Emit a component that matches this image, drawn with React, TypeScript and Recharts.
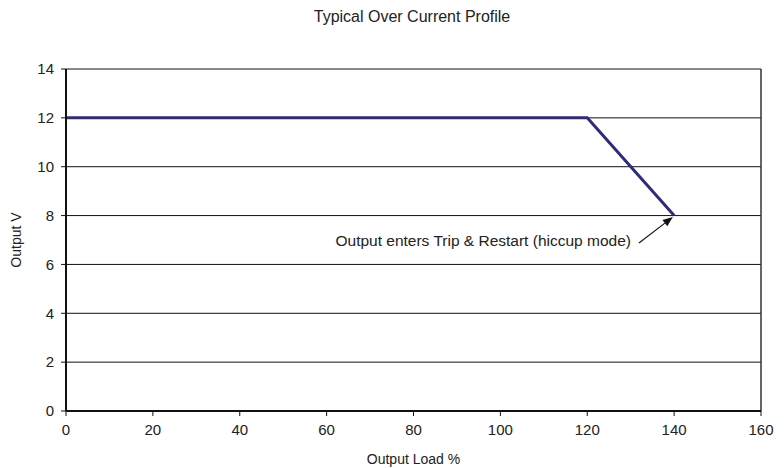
import { LineChart, Line, XAxis, YAxis, CartesianGrid, ReferenceLine, Label } from 'recharts';

const loadPct = [0, 120, 140];
const outputV = [12, 12, 8];
const xTicks = [0, 20, 40, 60, 80, 100, 120, 140, 160];
const yTicks = [0, 2, 4, 6, 8, 10, 12, 14];
const title = 'Typical Over Current Profile';
const note = 'Output enters Trip & Restart (hiccup mode)';
// arrow from the note to the trip point
const arrowFrom = { x: 131.9, y: 6.88 };
const arrowTo = { x: 139.7, y: 7.94 };

const data = loadPct.map((x, i) => ({ x, v: outputV[i] }));

const font = '"Liberation Sans", Arial, sans-serif';
const txt = { fontSize: 15, fill: '#222', fontFamily: font };

const ArrowShape = (props: any) => {
  const { x1, y1, x2, y2 } = props;
  const ang = Math.atan2(y2 - y1, x2 - x1);
  const len = 10;
  const w = 4;
  const bx = x2 - len * Math.cos(ang);
  const by = y2 - len * Math.sin(ang);
  const px = -Math.sin(ang) * w;
  const py = Math.cos(ang) * w;
  return (
    <g>
      <line x1={x1} y1={y1} x2={bx} y2={by} stroke="#111" strokeWidth={1.2} />
      <polygon points={`${x2},${y2} ${bx + px},${by + py} ${bx - px},${by - py}`} fill="#111" />
      <text x={x1 - 8} y={y1 + 3} textAnchor="end" {...txt} fontSize={15.5}>
        {note}
      </text>
    </g>
  );
};

export default function App() {
  return (
    <div style={{ position: 'absolute', left: 0, top: 0, width: 784, height: 468, background: '#fff', fontFamily: font }}>
      <div style={{ position: 'absolute', left: 20, top: 8, width: 784, textAlign: 'center', fontSize: 16, color: '#222' }}>
        {title}
      </div>
      <LineChart width={784} height={468} data={data} margin={{ top: 69, right: 23, left: 0, bottom: 0 }}>
        <CartesianGrid vertical={false} stroke="#111" strokeWidth={1} />
        <XAxis
          dataKey="x"
          type="number"
          domain={[0, 160]}
          ticks={xTicks}
          interval={0}
          height={57}
          axisLine={{ stroke: '#111', strokeWidth: 2 }}
          tickLine={{ stroke: '#111' }}
          tickSize={5}
          tickMargin={8}
          tick={txt}
        >
          <Label value="Output Load %" position="insideBottom" offset={4} style={{ ...txt, fontSize: 14 }} />
        </XAxis>
        <YAxis
          type="number"
          domain={[0, 14]}
          ticks={yTicks}
          interval={0}
          width={66}
          axisLine={{ stroke: '#111', strokeWidth: 2 }}
          tickLine={{ stroke: '#111' }}
          tickSize={5}
          tickMargin={7}
          tick={txt}
        >
          <Label value="Output V" angle={-90} position="insideLeft" offset={16} style={{ ...txt, fontSize: 14, textAnchor: 'middle' }} />
        </YAxis>
        <ReferenceLine x={160} stroke="#333" strokeWidth={1.5} />
        <ReferenceLine
          segment={[arrowFrom, arrowTo]}
          shape={<ArrowShape />}
          ifOverflow="visible"
        />
        <Line
          dataKey="v"
          type="linear"
          stroke="#2e2b7c"
          strokeWidth={3}
          dot={false}
          isAnimationActive={false}
        />
      </LineChart>
    </div>
  );
}
